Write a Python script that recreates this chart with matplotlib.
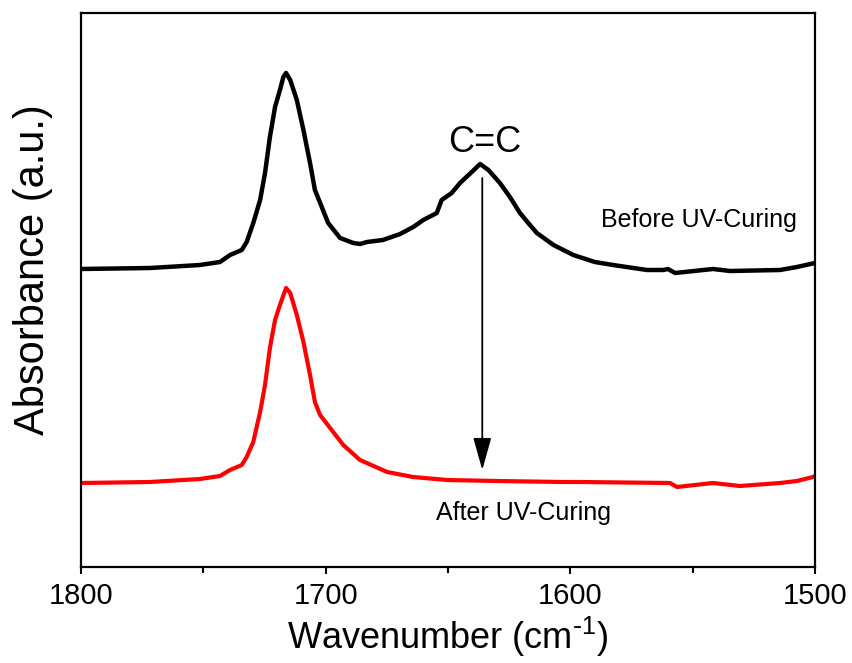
"""
FTIR spectra before / after UV curing (C=C band).
"""

import matplotlib
matplotlib.use('Agg')
import matplotlib.pyplot as plt

plt.rcParams['font.family'] = ['Liberation Sans', 'DejaVu Sans']
plt.rcParams['mathtext.default'] = 'regular'

# wavenumber (cm-1) and absorbance (a.u.)
wn_before = [1800, 1771.8, 1751.4, 1743.2, 1739.1, 1734.3, 1732.3, 1729.6, 1726.8, 1724.8,
             1722.8, 1720.7, 1718.7, 1717.3, 1716.2, 1714.5, 1711.8, 1709.1, 1706.4, 1704.4,
             1701.6, 1699.0, 1694.1, 1688.7, 1686.0, 1683.1, 1676.6, 1669.6, 1664.2, 1660.1,
             1654.6, 1652.6, 1648.5, 1645.1, 1640.3, 1636.9, 1633.5, 1628.8, 1624.7, 1620.6,
             1617.2, 1613.7, 1606.9, 1598.8, 1590.0, 1582.6, 1568.7, 1562.1, 1560.1, 1557.2,
             1541.7, 1534.7, 1514.3, 1507.4, 1500]
abs_before = [298, 299, 302, 305, 312, 317, 325, 344, 367, 394,
              430, 460, 477, 490, 494, 487, 467, 437, 404, 377,
              360, 344, 329, 324, 323, 325, 327, 333, 340, 347,
              354, 367, 374, 384, 395, 403, 397, 384, 370, 354,
              344, 334, 322, 312, 305, 302, 297, 297, 298, 294,
              298, 296, 297, 300, 304]

wn_after = [1800, 1771.8, 1751.4, 1743.2, 1739.1, 1734.3, 1732.3, 1729.6, 1726.8, 1724.8,
            1722.8, 1720.7, 1718.7, 1716.2, 1714.5, 1711.8, 1709.1, 1706.4, 1704.4, 1702.3,
            1698.2, 1692.8, 1686.0, 1674.9, 1664.3, 1650.4, 1630.0, 1603.0, 1596.1, 1559.3,
            1556.4, 1541.7, 1530.7, 1514.3, 1507.4, 1500.8, 1500]
abs_after = [84, 85, 88, 91, 97, 102, 110, 125, 155, 182,
             219, 247, 262, 279, 274, 252, 225, 192, 165, 152,
             139, 122, 107, 95, 90, 87, 86, 85, 85, 84,
             80, 84, 81, 84, 86, 90, 91]

fig = plt.figure(figsize=(8.52, 6.63), dpi=100)
ax = fig.add_axes([0.0951, 0.1448, 0.8615, 0.8356])

ax.plot(wn_before, abs_before, color='black', lw=3.2, solid_joinstyle='round')
ax.plot(wn_after, abs_after, color='#ff0000', lw=3.0, solid_joinstyle='round')

ax.set_xlim(1800, 1500)
ax.set_ylim(0, 554)

# arrow showing the C=C band going away
ax.annotate('', xy=(1636, 97), xytext=(1636, 389),
            arrowprops=dict(arrowstyle='-|>,head_length=1.0,head_width=0.28',
                            lw=1.3, color='black', mutation_scale=20,
                            shrinkA=0, shrinkB=0))
ax.text(1635, 415, 'C=C', fontsize=26, ha='center', va='baseline')
ax.text(1547.6, 340, 'Before UV-Curing', fontsize=18, ha='center', va='baseline')
ax.text(1619, 47, 'After UV-Curing', fontsize=18, ha='center', va='baseline')

ax.set_xticks([1800, 1700, 1600, 1500])
ax.set_xticks([1750, 1650, 1550], minor=True)
ax.set_yticks([])
ax.tick_params(axis='x', which='major', direction='out', length=5, width=1.5,
               labelsize=21, pad=6)
ax.tick_params(axis='x', which='minor', direction='out', length=4, width=1.5)
for s in ax.spines.values():
    s.set_linewidth(1.6)

ax.set_xlabel(r'Wavenumber (cm$^{\text{-}1}$)', fontsize=26, labelpad=3)
ax.set_ylabel('Absorbance (a.u.)', fontsize=30)
ax.yaxis.set_label_coords(-0.038, 0.536)

plt.savefig('out.png', dpi=100)
